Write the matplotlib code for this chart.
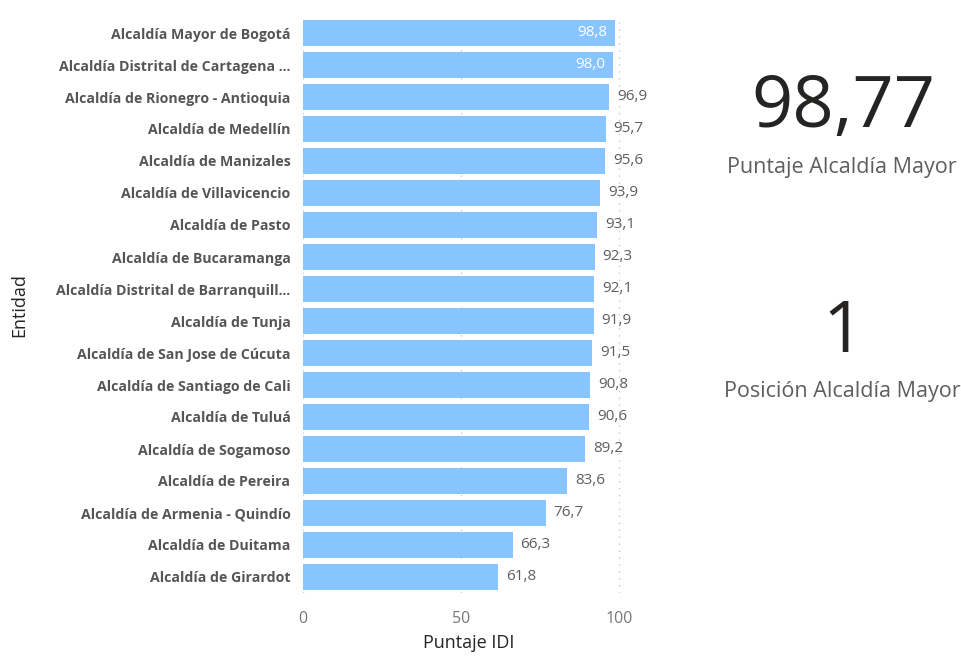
import matplotlib.pyplot as plt

plt.rcParams['font.family'] = ['Open Sans', 'DejaVu Sans']

# datos
entidades = [
    'Alcaldía Mayor de Bogotá',
    'Alcaldía Distrital de Cartagena ...',
    'Alcaldía de Rionegro - Antioquia',
    'Alcaldía de Medellín',
    'Alcaldía de Manizales',
    'Alcaldía de Villavicencio',
    'Alcaldía de Pasto',
    'Alcaldía de Bucaramanga',
    'Alcaldía Distrital de Barranquill...',
    'Alcaldía de Tunja',
    'Alcaldía de San Jose de Cúcuta',
    'Alcaldía de Santiago de Cali',
    'Alcaldía de Tuluá',
    'Alcaldía de Sogamoso',
    'Alcaldía de Pereira',
    'Alcaldía de Armenia - Quindío',
    'Alcaldía de Duitama',
    'Alcaldía de Girardot',
]
puntajes = [98.8, 98.0, 96.9, 95.7, 95.6, 93.9, 93.1, 92.3, 92.1,
            91.9, 91.5, 90.8, 90.6, 89.2, 83.6, 76.7, 66.3, 61.8]
x_ticks = [0, 50, 100]
puntaje_mayor = '98,77'
posicion_mayor = '1'

fig = plt.figure(figsize=(9.61, 6.56), dpi=100)
ax = fig.add_axes([303 / 961, 1 - 593 / 656, 332 / 961, 576 / 656])

y = list(range(len(entidades)))
ax.barh(y, puntajes, height=0.8, color='#88C4FF', zorder=2)
ax.set_ylim(len(entidades) - 0.5, -0.5)
ax.set_xlim(0, 105)

# etiquetas de datos
for i, v in enumerate(puntajes):
    txt = f'{v:.1f}'.replace('.', ',')
    if v >= 97.5:
        ax.text(v - 2.5, i, txt, ha='right', va='center', color='white',
                fontsize=11, zorder=3)
    else:
        ax.text(v + 2.5, i, txt, ha='left', va='center', color='#605E5C',
                fontsize=11, zorder=3)

ax.set_yticks(y)
ax.set_yticklabels(entidades, fontsize=10.2, fontweight='bold', color='#555555')
ax.set_xticks(x_ticks)
ax.set_xticklabels([str(t) for t in x_ticks], fontsize=11.5, color='#777777')
ax.tick_params(axis='both', length=0)
ax.tick_params(axis='y', pad=9)
ax.tick_params(axis='x', pad=13)
ax.grid(axis='x', linestyle=(0, (1, 4)), color='#C8C8C8', linewidth=1, zorder=0)
for s in ax.spines.values():
    s.set_visible(False)

ax.set_xlabel('Puntaje IDI', fontsize=13, color='#252423', labelpad=5)
fig.text(19 / 961, 1 - 305 / 656, 'Entidad', rotation=90, ha='center', va='center',
         fontsize=13, color='#252423')

# tarjetas
fig.text(843 / 961, 1 - 108 / 656, puntaje_mayor, ha='center', va='center',
         fontsize=52, color='#252423')
fig.text(842 / 961, 1 - 167 / 656, 'Puntaje Alcaldía Mayor', ha='center', va='center',
         fontsize=15.5, color='#605E5C')
fig.text(843 / 961, 1 - 333 / 656, posicion_mayor, ha='center', va='center',
         fontsize=52, color='#252423')
fig.text(842 / 961, 1 - 392 / 656, 'Posición Alcaldía Mayor', ha='center', va='center',
         fontsize=15.5, color='#605E5C')

fig.savefig('out.png', dpi=100)
